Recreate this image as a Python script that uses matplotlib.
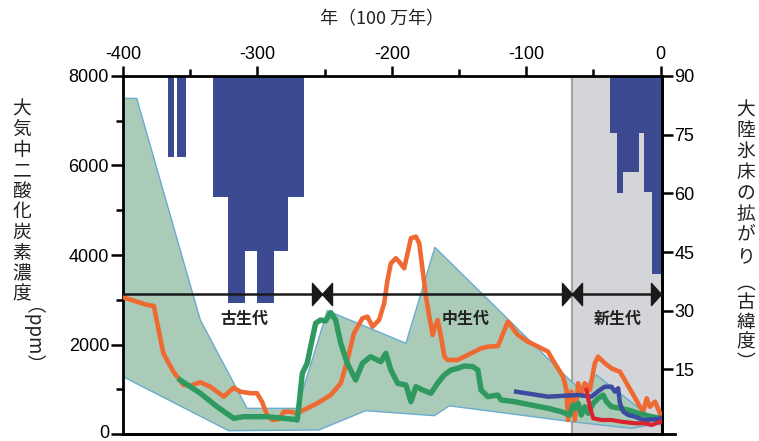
#!/usr/bin/env python3

import numpy
from matplotlib import pyplot
import matplotlib.transforms


# CO2 reconstructions (x: Myr, y: ppm)
ORANGE_X = [-400, -382, -377, -375, -370, -362.5, -355, -350, -342.5, -335, -325,
	-317.7, -312.7, -305, -300.3, -296.6, -292.8, -289, -284, -280.4, -275.4,
	-270.4, -266.6, -255.5, -245.5, -238, -233, -228.2, -221.9, -218.1, -214.4,
	-209.5, -205.7, -203.2, -200.7, -197, -194.6, -190.8, -188.3, -185.8, -182.1,
	-179.6, -177.1, -174.6, -172.1, -169.6, -168.4, -165.9, -163.4, -160.9,
	-158.5, -151, -141, -133.6, -128.6, -121, -113.7, -106.2, -98.7, -91.2,
	-83.8, -78.8, -72.6, -70.1, -68.9, -66.4, -63.9, -61.4, -59, -56.5, -52.7,
	-49, -46.5, -41.5, -36.6, -30.3, -25.3, -20.3, -15.4, -12.9, -10.4, -8,
	-4.2, -0.5, 0]
ORANGE_Y = [3055, 2883, 2861, 2548, 1804, 1392, 1095, 1080, 1155, 1057, 834,
	1035, 946, 910, 910, 722, 425, 313, 328, 498, 498,
	462, 521, 686, 871, 1133, 1654, 2250, 2585, 2622, 2398,
	2548, 2921, 3442, 3815, 3927, 3851, 3703, 4039, 4374, 4410,
	4262, 3665, 3069, 2622, 2213, 2362, 2548, 2175, 1728,
	1654, 1654, 1804, 1915, 1952, 1967, 2510, 2213, 2063, 1952,
	1840, 1580, 1281, 983, 313, 946, 313, 1133, 910, 1133, 983,
	1580, 1728, 1580, 1468, 1392, 1133, 871, 610, 498, 798, 610,
	722, 462, 400]

GREEN_X = [-357.5, -342.5, -330, -317.7, -310.2, -292.8, -272.9, -270.4, -269.2,
	-266.6, -263, -260.4, -256.7, -253, -249.3, -245.5, -241.8, -238, -233.1,
	-226.9, -221.9, -215.8, -208.2, -204.5, -200.7, -198.2, -195.7, -189.5,
	-185.8, -182.1, -177.1, -170.9, -166, -161, -156, -151, -146, -139.8, -136,
	-133.6, -128.6, -121.2, -118.7, -108.8, -96.3, -83.8, -73.9, -67.7, -65.2,
	-64, -61.4, -59, -56.5, -54, -50.2, -46.5, -42.8, -40.3, -36.6, -30.3,
	-24.1, -16.6, -6.7, 0]
GREEN_Y = [1207, 910, 610, 350, 387, 387, 328, 313, 610,
	1356, 1580, 1952, 2474, 2548, 2526, 2712, 2548, 2027, 1580,
	1207, 1580, 1728, 1616, 1804, 1430, 1281, 1133, 1095,
	722, 1057, 983, 910, 1133, 1319, 1430, 1468, 1520, 1505, 1430,
	983, 834, 871, 760, 722, 648, 574, 498, 425, 648,
	574, 686, 425, 610, 462, 686, 798, 871, 722, 610, 574,
	536, 462, 387, 350]

BLUE_X = [-107.5, -83.8, -61.4, -51.5, -45.3, -41.5, -36.6, -34, -31.6, -30.3,
	-27.8, -24.1, -19.1, -12.9, -4.2, 0]
BLUE_Y = [946, 834, 871, 834, 983, 1057, 1057, 946, 1021, 686,
	498, 425, 387, 313, 328, 350]

RED_X = [-55.2, -52.7, -50.2, -44, -36.6, -29.1, -19.1, -11.7, -6.7, 0]
RED_Y = [983, 610, 350, 313, 313, 275, 239, 239, 201, 275]

# CO2 uncertainty envelope
BAND_UPPER_X = [-400, -389.8, -342.5, -307.7, -270.4, -248, -189.5, -168, -66.4,
	-58.9, -47.8, 0]
BAND_UPPER_Y = [7500, 7500, 2550, 574, 574, 2756, 2027, 4173, 1170,
	983, 1319, 200]
BAND_LOWER_X = [-400, -321.4, -254.3, -219.4, -168.4, -157.2, -66.4, -21.6, 0]
BAND_LOWER_Y = [1281, 74, 90, 521, 409, 630, 275, 127, 240]

# continental ice sheets: age span and equatorward extent (palaeolatitude)
ICE_START = [-366.4, -359.7, -333, -321.6, -321.6, -300,
	-37.8, -32.8, -27.9, -16, -12.5, -6.7]
ICE_END = [-362, -353, -265.7, -276.9, -309, -288,
	-32.8, -27.9, -16, -12.5, -6.7, 1]
ICE_LAT = [69.3, 69.3, 59.1, 45.3, 32, 32,
	75.5, 60.2, 65.4, 75.4, 60.3, 39.3]

ERA_BOUNDS = [-400, -252, -66, 0]
ERA_NAMES = ["古生代", "中生代", "新生代"]
ERA_LABEL_X = [-310, -145, -32]
ERA_LINE_Y = 3130
ERA_LABEL_Y = 2570

LEFT_LABEL = "大気中二酸化炭素濃度"
RIGHT_LABEL = "大陸氷床の拡がり"
RIGHT_UNIT = "︵古緯度︶"

CJK = ["Noto Sans CJK JP", "DejaVu Sans"]
NUM = ["Liberation Sans", "DejaVu Sans"]

C_ORANGE = "#ef6a32"
C_GREEN = "#2f9a60"
C_BLUE = "#3c4aa0"
C_RED = "#d9232e"
C_ICE = "#3c4a91"
C_BAND = "#a9cbb8"
C_BAND_EDGE = "#6aaccf"
C_GRAY = "#d4d5d8"
C_TEXT = "#222222"


def style_axes(fig, ax1, ax2):
	for ax in (ax1, ax2):
		for sp in ax.spines.values():
			sp.set_linewidth(2.0)
	ax1.set_xlim(-400, 1)
	ax1.set_ylim(0, 8000)
	ax2.set_ylim(-1.5, 90)
	ax1.xaxis.tick_top()
	ax1.set_xticks(numpy.arange(-400, 1, 100))
	ax1.set_xticks(numpy.arange(-350, 0, 100), minor = True)
	ax1.set_xticklabels(["-400", "-300", "-200", "-100", "0"])
	ax1.set_yticks(numpy.arange(0, 8001, 2000))
	ax1.set_yticks(numpy.arange(1000, 8000, 2000), minor = True)
	ax2.set_yticks(numpy.arange(15, 91, 15))
	ax1.tick_params(axis = "x", which = "major", direction = "out", length = 7,
		width = 1.8, pad = 2, labelsize = 13)
	ax1.tick_params(axis = "x", which = "minor", direction = "out", length = 5,
		width = 1.8)
	ax1.tick_params(axis = "y", which = "major", direction = "out", length = 9,
		width = 1.8, pad = 1, labelsize = 13)
	ax1.tick_params(axis = "y", which = "minor", direction = "out", length = 5,
		width = 1.8)
	ax2.tick_params(axis = "y", which = "major", direction = "out", length = 8,
		width = 1.8, pad = 1, labelsize = 13)
	ax2.tick_params(axis = "x", which = "both", top = False, bottom = False,
		labeltop = False, labelbottom = False)
	for lbl in ax1.get_xticklabels() + ax1.get_yticklabels() + ax2.get_yticklabels():
		lbl.set_family(NUM)
	# lift the "0" label so it stays inside the figure
	lift = matplotlib.transforms.ScaledTranslation(0, 2 / 72, fig.dpi_scale_trans)
	lbl0 = ax1.get_yticklabels()[0]
	lbl0.set_transform(lbl0.get_transform() + lift)
	ax2.spines["bottom"].set_visible(False)
	ax2.spines["top"].set_visible(False)
	ax2.spines["left"].set_visible(False)


def draw_ice(ax2):
	ax2.axvspan(ERA_BOUNDS[2], 1, facecolor = C_GRAY, edgecolor = "none", zorder = 0)
	ax2.axvline(ERA_BOUNDS[2], color = "#a3a4a6", linewidth = 1.6, zorder = 0.5)
	start = numpy.asarray(ICE_START)
	end = numpy.asarray(ICE_END)
	lat = numpy.asarray(ICE_LAT)
	ax2.bar(start, 90 - lat, width = end - start, bottom = lat, align = "edge",
		color = C_ICE, edgecolor = "none", zorder = 1)


def draw_co2(ax):
	px = list(BAND_UPPER_X) + list(BAND_LOWER_X[::-1])
	py = list(BAND_UPPER_Y) + list(BAND_LOWER_Y[::-1])
	ax.fill(px, py, facecolor = C_BAND, edgecolor = C_BAND_EDGE, linewidth = 1.0,
		zorder = 2)
	ax.plot(ORANGE_X, ORANGE_Y, color = C_ORANGE, linewidth = 3.3,
		solid_joinstyle = "round", zorder = 3)
	ax.plot(GREEN_X, GREEN_Y, color = C_GREEN, linewidth = 3.9,
		solid_joinstyle = "round", zorder = 4)
	ax.plot(BLUE_X, BLUE_Y, color = C_BLUE, linewidth = 3.2,
		solid_joinstyle = "round", zorder = 5)
	ax.plot(RED_X, RED_Y, color = C_RED, linewidth = 3.0,
		solid_joinstyle = "round", zorder = 6)


def draw_eras(ax):
	ax.plot([ERA_BOUNDS[0], ERA_BOUNDS[-1]], [ERA_LINE_Y, ERA_LINE_Y],
		color = "#1a1a1a", linewidth = 1.8, zorder = 7, clip_on = False)
	right_tri = [(0, 0), (-0.45, 0.5), (-0.45, -0.5), (0, 0)]
	left_tri = [(0, 0), (0.45, 0.5), (0.45, -0.5), (0, 0)]
	tips = ERA_BOUNDS[1:]
	ax.plot(tips, [ERA_LINE_Y] * len(tips), linestyle = "none", marker = right_tri,
		markersize = 16, color = "#1a1a1a", zorder = 8, clip_on = False)
	ax.plot(tips[:-1], [ERA_LINE_Y] * (len(tips) - 1), linestyle = "none",
		marker = left_tri, markersize = 16, color = "#1a1a1a", zorder = 8)
	for name, x in zip(ERA_NAMES, ERA_LABEL_X):
		ax.text(x, ERA_LABEL_Y, name, family = CJK, fontsize = 11.5,
			fontweight = "bold", color = C_TEXT, ha = "center", va = "center",
			zorder = 9)


def vertical_text(fig, x, y_top, chars, step):
	# stack characters top to bottom (figure pixels)
	w, h = fig.get_size_inches() * fig.dpi
	for i, ch in enumerate(chars):
		fig.text(x / w, 1 - (y_top + i * step) / h, ch, family = CJK, fontsize = 13.5,
			color = C_TEXT, ha = "center", va = "center")


def draw_labels(fig):
	w, h = fig.get_size_inches() * fig.dpi
	fig.text(382 / w, 1 - 19 / h, "年（100 万年）", family = CJK, fontsize = 13,
		color = C_TEXT, ha = "center", va = "center")
	vertical_text(fig, 22, 109, LEFT_LABEL, 20.6)
	fig.text(22 / w, 1 - 346 / h, "（ppm）", family = CJK, fontsize = 13.5,
		color = C_TEXT, ha = "center", va = "center", rotation = 270)
	vertical_text(fig, 746, 110, RIGHT_LABEL, 20.9)
	vertical_text(fig, 746, 283, RIGHT_UNIT, 19.7)


def hdl_plot():
	fig = pyplot.figure(figsize = (7.59, 4.41), dpi = 100)
	ax1 = fig.add_axes([123 / 759, 7 / 441, (662 - 123) / 759, (434 - 76) / 441])
	ax2 = ax1.twinx()
	ax1.set_zorder(ax2.get_zorder() + 1)
	ax1.patch.set_visible(False)
	style_axes(fig, ax1, ax2)
	draw_ice(ax2)
	draw_co2(ax1)
	draw_eras(ax1)
	# bottom rule runs a little past the right spine
	ax1.plot([0, 1.025], [0, 0], transform = ax1.transAxes, color = "black",
		linewidth = 2.0, clip_on = False, zorder = 10)
	draw_labels(fig)
	return fig


if __name__ == "__main__":
	fig = hdl_plot()
	fig.savefig("out.png", dpi = 100)
	pyplot.close()
